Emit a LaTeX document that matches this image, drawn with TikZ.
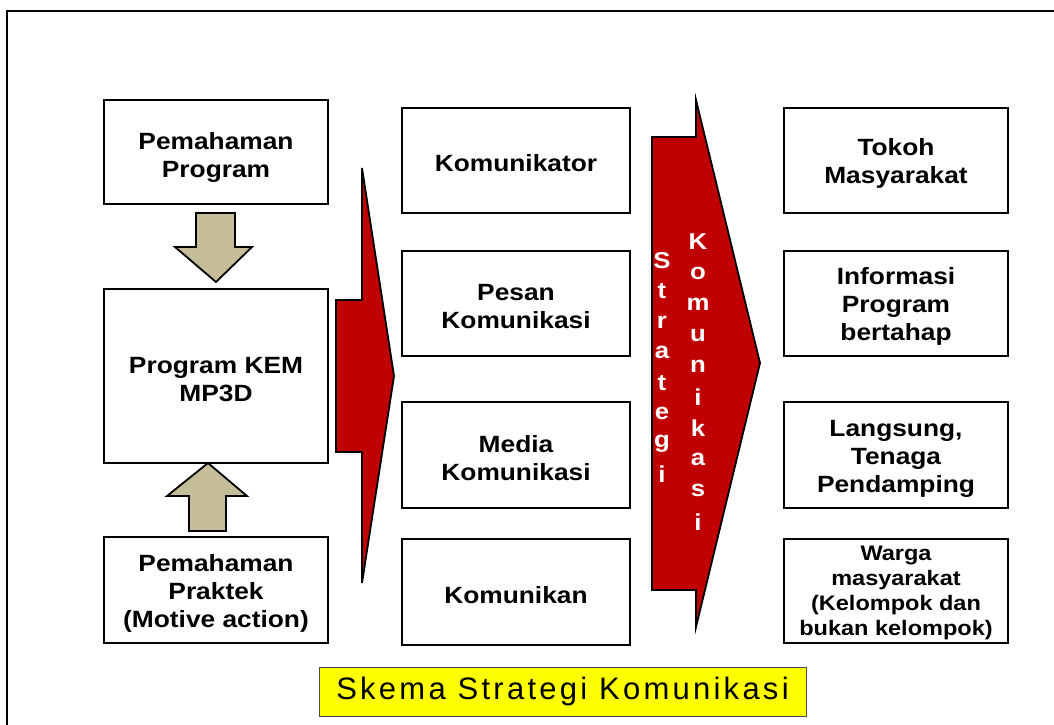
\documentclass[tikz,border=0pt]{standalone}
\usepackage{fontspec}
\setmainfont{Liberation Sans}
\newfontfamily\boxfont[FakeStretch=1.12]{Liberation Sans}
\newfontfamily\titlefont[LetterSpace=10.5]{Liberation Sans}
\definecolor{arrowred}{RGB}{192,0,0}
\definecolor{khaki}{RGB}{196,189,151}
\definecolor{titleyellow}{RGB}{255,255,0}
\newcommand{\topstrut}{\rule{0pt}{23pt}}
\begin{document}
\begin{tikzpicture}[x=1pt,y=-1pt,
  box/.style={draw=black,line width=1.8pt,fill=white,align=center,inner sep=2pt,
    font=\boxfont\bfseries\fontsize{23.5}{28}\selectfont},
  smallbox/.style={box,font=\boxfont\bfseries\fontsize{21}{25}\selectfont},
  blockarrow/.style={draw=black,line width=1.8pt,line join=miter},
  letter/.style={text=white,font=\boxfont\bfseries\fontsize{23}{23}\selectfont,inner sep=0pt}]
\useasboundingbox (0,0) rectangle (1054,724);
\fill[white] (0,0) rectangle (1054,724);
% outer frame
\draw[line width=2.2pt] (7,726) -- (7,11) -- (1056,11);

% left column
\node[box,minimum width=224pt,minimum height=104pt] (pp) at (216,152) {\rule{0pt}{27pt}Pemahaman\\Program};
\node[box,minimum width=224pt,minimum height=174pt] (kem) at (216,376) {\topstrut Program KEM\\MP3D};
\node[box,minimum width=224pt,minimum height=106pt] (prak) at (216,590) {\topstrut Pemahaman\\Praktek\\(Motive action)};

% khaki arrows
\draw[blockarrow,fill=khaki] (196,213) -- (235,213) -- (235,247) -- (252,247) -- (216,282)
  -- (175,247) -- (196,247) -- cycle;
\draw[blockarrow,fill=khaki] (208,463) -- (247,496) -- (226,496) -- (226,531) -- (189,531)
  -- (189,496) -- (167,496) -- cycle;

% red arrow 1
\draw[blockarrow,fill=arrowred] (362,168) -- (394,376) -- (362,583) -- (362,452) -- (336,452)
  -- (336,300) -- (362,300) -- cycle;

% middle column
\node[box,minimum width=228pt,minimum height=105pt] (kom) at (516,160.5) {\topstrut Komunikator};
\node[box,minimum width=228pt,minimum height=105pt] (pes) at (516,303.5) {\topstrut Pesan\\Komunikasi};
\node[box,minimum width=228pt,minimum height=106pt] (med) at (516,455) {\topstrut Media\\Komunikasi};
\node[box,minimum width=228pt,minimum height=106pt] (kmk) at (516,592) {\topstrut Komunikan};

% red arrow 2
\draw[blockarrow,fill=arrowred] (696,100) -- (760,363) -- (696,627) -- (696,590) -- (652,590)
  -- (652,137) -- (696,137) -- cycle;
\foreach \ch [count=\i from 0] in {S,t,r,a,t,e,g,i}
  \node[letter] (s\i) at (662,{261+30.5*\i}) {\ch};
\foreach \ch [count=\i from 0] in {K,o,m,u,n,i,k,a,s,i}
  \node[letter] (k\i) at (698,{242+31.1*\i}) {\ch};

% right column
\node[box,minimum width=224pt,minimum height=105pt] (tok) at (896,160.5) {\topstrut Tokoh\\Masyarakat};
\node[box,minimum width=224pt,minimum height=105pt] (inf) at (896,303.5) {\topstrut Informasi\\Program\\bertahap};
\node[box,minimum width=224pt,minimum height=106pt] (lan) at (896,455) {\topstrut Langsung,\\Tenaga\\Pendamping};
\node[smallbox,minimum width=224pt,minimum height=104pt] (war) at (896,591) {\rule{0pt}{19pt}Warga\\masyarakat\\(Kelompok dan\\bukan kelompok)};

% title
\node[draw=black!70,line width=1pt,fill=titleyellow,minimum width=487pt,minimum height=49pt,
  inner sep=0pt,font=\titlefont\fontsize{31}{31}\selectfont] (title) at (562.5,691.5) {Skema Strategi Komunikasi};
\end{tikzpicture}
\end{document}
